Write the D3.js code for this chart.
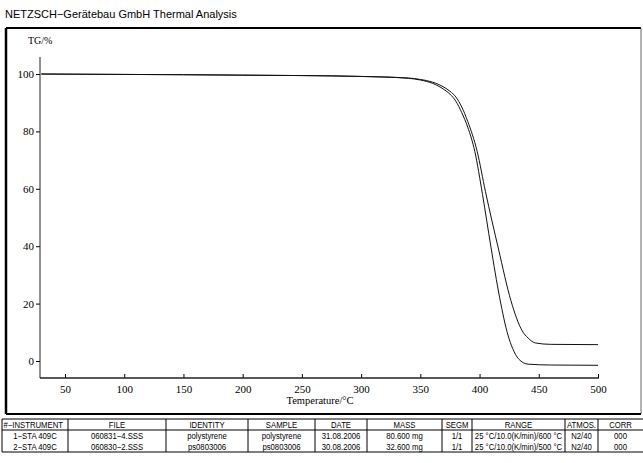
<!DOCTYPE html>
<html><head><meta charset="utf-8">
<script src="https://cdn.jsdelivr.net/npm/d3@7"></script>
<style>
html,body{margin:0;padding:0;background:#fff;}
svg{display:block;}
</style></head>
<body>
<svg id="chart" width="643" height="463"></svg>
<script>
// ---- data ----
const title = "NETZSCH\u2212Gerätebau GmbH Thermal Analysis";
const yLabel = "TG/%";
const xLabel = "Temperature/\u00b0C";
const xTicks = [50, 100, 150, 200, 250, 300, 350, 400, 450, 500];
const yTicks = [0, 20, 40, 60, 80, 100];

// curve 1 (060831-4, polystyrene) – ends low
const temp1 = [30, 50, 100, 150, 200, 250, 300, 340, 350, 360, 370, 375, 380, 385, 390, 396, 402.5, 409.5, 417, 424, 428, 433, 441, 460, 500];
const tg1   = [100, 99.95, 99.85, 99.75, 99.6, 99.45, 99.15, 98.5, 97.9, 96.8, 94.6, 93, 90.5, 86.5, 81.5, 73, 58, 40, 22, 9, 4.3, 0.7, -1.1, -1.4, -1.5];
// curve 2 (060830-2, ps0803006) – ends high
const temp2 = [30, 50, 100, 150, 200, 250, 300, 340, 350, 360, 370, 375, 380, 385, 390, 398, 405, 416, 426.5, 436, 441, 447, 460, 500];
const tg2   = [100, 99.95, 99.85, 99.75, 99.6, 99.45, 99.15, 98.6, 98.1, 97.2, 95.4, 94, 92, 88.5, 83.5, 73, 59, 39, 21, 10.5, 8, 6.3, 5.8, 5.7];

const tableHeader = ["#\u2212INSTRUMENT", "FILE", "IDENTITY", "SAMPLE", "DATE", "MASS", "SEGM", "RANGE", "ATMOS.", "CORR"];
const tableRow1 = ["1\u2212STA 409C", "060831\u22124.SSS", "polystyrene", "polystyrene", "31.08.2006", "80.600 mg", "1/1", "25 \u00b0C/10.0(K/min)/600 \u00b0C", "N2/40", "000"];
const tableRow2 = ["2\u2212STA 409C", "060830\u22122.SSS", "ps0803006", "ps0803006", "30.08.2006", "32.600 mg", "1/1", "25 \u00b0C/10.0(K/min)/500 \u00b0C", "N2/40", "000"];

// ---- layout ----
const svg = d3.select("#chart");
const serif = "'Liberation Serif', 'DejaVu Serif', serif";
const sans = "'Liberation Sans', Arial, sans-serif";

const axL = 40, axR = 599, axT = 57, axB = 378;
const x = d3.scaleLinear().domain([50, 500]).range([65, 598]);
const y = d3.scaleLinear().domain([0, 100]).range([361, 74]);

svg.append("text").attr("x", 5).attr("y", 18).attr("font-family", sans).attr("font-size", 11).text(title);

// frame
const fL = 6, fT = 28, fR = 641, fB = 414;
svg.append("line").attr("x1", fL).attr("x2", fR).attr("y1", fT).attr("y2", fT).attr("stroke", "#000").attr("stroke-width", 2);
svg.append("line").attr("x1", fL).attr("x2", fL).attr("y1", fT).attr("y2", fB).attr("stroke", "#000").attr("stroke-width", 2.5);
svg.append("line").attr("x1", fR).attr("x2", fR).attr("y1", fT).attr("y2", fB).attr("stroke", "#666").attr("stroke-width", 1);
svg.append("line").attr("x1", fL).attr("x2", fR).attr("y1", fB).attr("y2", fB).attr("stroke", "#000").attr("stroke-width", 2);

// axes
const gy = svg.append("g").attr("transform", `translate(${axL},0)`)
  .call(d3.axisLeft(y).tickValues(yTicks).tickSize(4).tickPadding(2).tickFormat(d3.format("d")));
gy.select(".domain").remove();
svg.append("line").attr("x1", axL).attr("x2", axL).attr("y1", axT).attr("y2", axB).attr("stroke", "#222").attr("stroke-width", 1);
const gx = svg.append("g").attr("transform", `translate(0,${axB})`)
  .call(d3.axisBottom(x).tickValues(xTicks).tickSize(-4).tickPadding(7).tickFormat(d3.format("d")));
gx.select(".domain").remove();
svg.append("line").attr("x1", axL).attr("x2", axR).attr("y1", axB).attr("y2", axB).attr("stroke", "#222").attr("stroke-width", 1.5);
svg.selectAll(".tick text").attr("font-family", serif).attr("font-size", 11).attr("fill", "#000");
gx.selectAll(".tick text").attr("dy", "0.71em");

svg.append("text").attr("x", 28).attr("y", 44).attr("font-family", serif).attr("font-size", 10).text(yLabel);
svg.append("text").attr("x", 320).attr("y", 404).attr("text-anchor", "middle").attr("font-family", serif).attr("font-size", 10.5).text(xLabel);

// curves
const line = d3.line().x(d => x(d[0])).y(d => y(d[1])).curve(d3.curveMonotoneX);
[[temp1, tg1], [temp2, tg2]].forEach(([t, v]) => {
  svg.append("path").datum(t.map((d, i) => [d, v[i]]))
    .attr("d", line).attr("fill", "none").attr("stroke", "#111").attr("stroke-width", 1);
});

// table
const colX = [2, 68, 166, 248, 315, 367, 442, 472, 565, 598, 643];
const tT = 419, rowH = [11, 11, 11];
const rows = [tableHeader, tableRow1, tableRow2];
let yy = tT;
const tg = svg.append("g");
tg.append("line").attr("x1", colX[0]).attr("x2", 643).attr("y1", tT).attr("y2", tT).attr("stroke", "#000");
rows.forEach((r, ri) => {
  const h = rowH[ri];
  r.forEach((txt, ci) => {
    const left = ci === 0 && ri === 0;
    const cw = colX[ci + 1] - colX[ci];
    const tx = left ? colX[0] + 1.5 : (colX[ci] + colX[ci + 1]) / 2;
    const t = tg.append("text")
      .attr("text-anchor", left ? "start" : "middle")
      .attr("font-family", sans).attr("font-size", 8.8).text(txt);
    let s = 0.88;
    const w = t.node().getComputedTextLength();
    if (w * s > cw - 3) s = (cw - 3) / w;
    t.attr("transform", `translate(${tx},${yy + h - 2.5}) scale(${s},1)`);
  });
  yy += h;
  if (ri === 0) tg.append("line").attr("x1", colX[0]).attr("x2", 643).attr("y1", yy).attr("y2", yy).attr("stroke", "#000");
});
tg.append("line").attr("x1", colX[0]).attr("x2", 643).attr("y1", yy).attr("y2", yy).attr("stroke", "#000");
colX.slice(0, 10).forEach(cx => {
  tg.append("line").attr("x1", cx).attr("x2", cx).attr("y1", tT).attr("y2", yy).attr("stroke", "#000");
});
</script>
</body></html>
